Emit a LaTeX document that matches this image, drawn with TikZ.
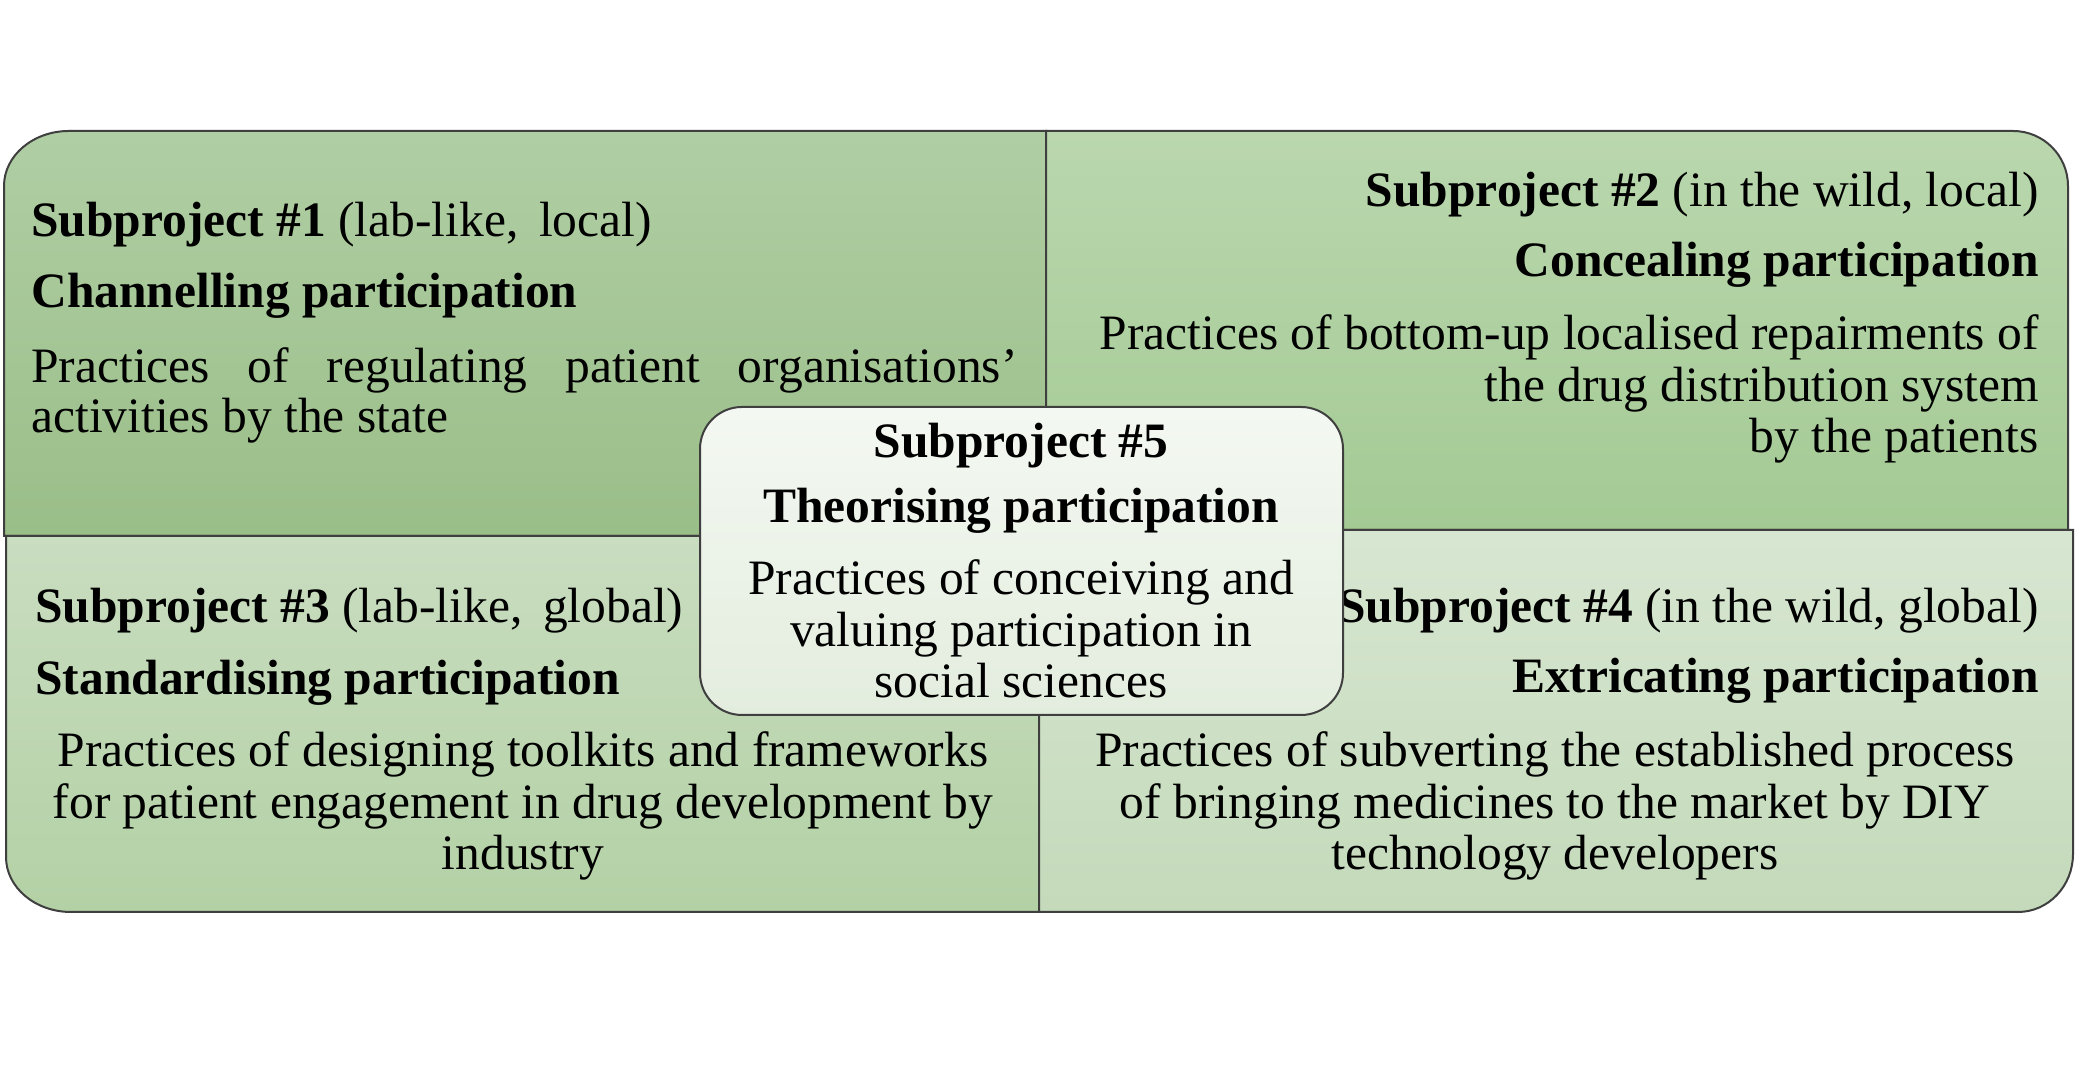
\documentclass[tikz,border=0pt]{standalone}
\usepackage{fontspec}
\setmainfont{Liberation Serif}
\usepackage{tikz}

\definecolor{tltop}{HTML}{B0CEA4}
\definecolor{tlbot}{HTML}{9ABE88}
\definecolor{trtop}{HTML}{BAD7AE}
\definecolor{trbot}{HTML}{A4CA94}
\definecolor{bltop}{HTML}{C9DDC0}
\definecolor{blbot}{HTML}{B3D1A5}
\definecolor{brtop}{HTML}{D7E6D1}
\definecolor{brbot}{HTML}{C4DABA}
\definecolor{mdtop}{HTML}{F4F8F2}
\definecolor{mdbot}{HTML}{E3EDDE}
\definecolor{edge}{HTML}{3F3F3F}

\tikzset{
	quad/.style={draw=edge, line width=1pt},
	txt/.style={inner sep=0pt, font=\fontsize{24.75pt}{25.75pt}\selectfont},
	lefttxt/.style={txt, anchor=base west},
	righttxt/.style={txt, anchor=base east},
	midtxt/.style={txt, anchor=base}
}

\begin{document}
\begin{tikzpicture}[x=0.5pt,y=0.5pt]
	\useasboundingbox (0,0) rectangle (2090,1074);
	\fill[white] (0,0) rectangle (2090,1074);

	\shadedraw[quad, top color=tltop, bottom color=tlbot] (4,538) -- (4,888)
		arc[start angle=180, end angle=90, x radius=65, y radius=55] -- (1046,943) -- (1046,538) -- cycle;
	\shadedraw[quad, top color=trtop, bottom color=trbot] (1046,544) -- (1046,943) -- (2013,943)
		arc[start angle=90, end angle=0, x radius=55, y radius=55] -- (2068,544) -- cycle;
	\shadedraw[quad, top color=bltop, bottom color=blbot] (6,538) -- (1039,538) -- (1039,162) -- (71,162)
		arc[start angle=270, end angle=180, x radius=65, y radius=55] -- cycle;
	\shadedraw[quad, top color=brtop, bottom color=brbot] (1039,544) -- (2073,544) -- (2073,220)
		arc[start angle=0, end angle=-90, x radius=55, y radius=58] -- (1039,162) -- cycle;

	% subproject 1
	\node[lefttxt] (h1) at (31,837) {\textbf{Subproject \#1} (lab-like,\, local)};
	\node[lefttxt] (t1) at (31,766) {\textbf{Channelling participation}};
	\node[lefttxt] (b1a) at (31,691) {\makebox[493pt][s]{Practices of regulating patient organisations’}};
	\node[lefttxt] (b1b) at (31,641) {activities by the state};

	% subproject 2
	\node[righttxt] (h2) at (2039,867) {\textbf{Subproject \#2} (in the wild, local)};
	\node[righttxt] (t2) at (2039,797) {\textbf{Concealing participation}};
	\foreach \t [count=\i from 0] in {Practices of bottom-up localised repairments of, the drug distribution system, by the patients}
		\node[righttxt] (b2\i) at (2039,724-51.5*\i) {\t};

	% subproject 3
	\node[lefttxt] (h3) at (35,451) {\textbf{Subproject \#3} (lab-like,\, global)};
	\node[lefttxt] (t3) at (35,379) {\textbf{Standardising participation}};
	\foreach \t [count=\i from 0] in {Practices of designing toolkits and frameworks, for patient engagement in drug development by, industry}
		\node[midtxt] (b3\i) at (523,307-51.5*\i) {\t};

	% subproject 4
	\node[righttxt] (h4) at (2039,451) {\textbf{Subproject \#4} (in the wild, global)};
	\node[righttxt] (t4) at (2039,381) {\textbf{Extricating participation}};
	\foreach \t [count=\i from 0] in {Practices of subverting the established process, of bringing medicines to the market by DIY, technology developers}
		\node[midtxt] (b4\i) at (1555,307-51.5*\i) {\t};

	% subproject 5 on top
	\shadedraw[quad, top color=mdtop, bottom color=mdbot, rounded corners=21pt] (700,359) rectangle (1343,667);
	\node[midtxt] (h5) at (1021,616) {\textbf{Subproject \#5}};
	\node[midtxt] (t5) at (1021,551) {\textbf{Theorising participation}};
	\foreach \t [count=\i from 0] in {Practices of conceiving and, valuing participation in, social sciences}
		\node[midtxt] (b5\i) at (1021,479-51.5*\i) {\t};
\end{tikzpicture}
\end{document}
